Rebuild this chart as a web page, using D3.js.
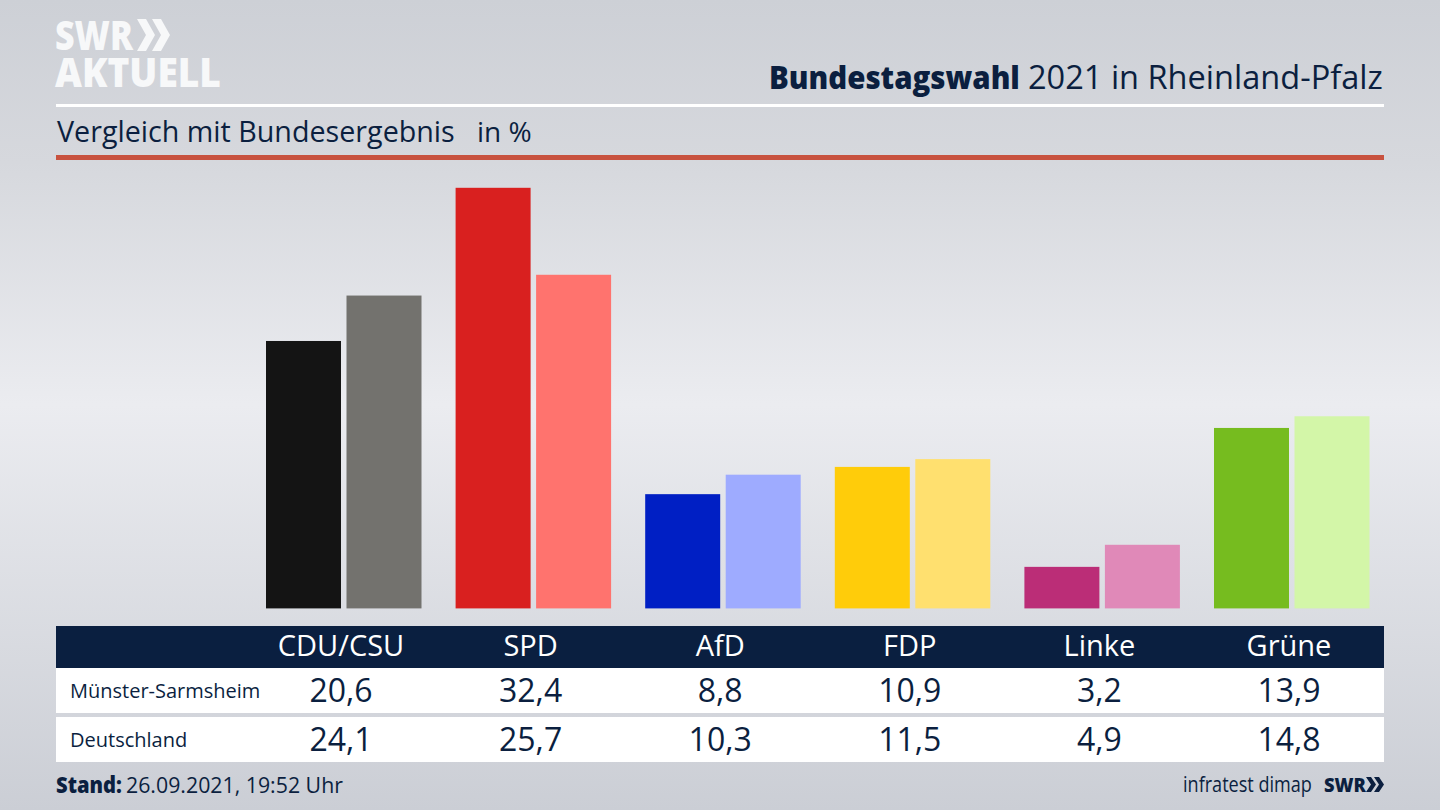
<!DOCTYPE html>
<html>
<head>
<meta charset="utf-8">
<script src="https://cdn.jsdelivr.net/npm/d3@7/dist/d3.min.js"></script>
<style>
  html, body { margin: 0; padding: 0; background: #d5d7dc; }
  svg { display: block; }
  text { font-family: "Open Sans", "Noto Sans", sans-serif; fill: #0b1f3f; }
</style>
</head>
<body>
<svg id="chart" width="1440" height="810"></svg>
<script>
const parties = ["CDU/CSU", "SPD", "AfD", "FDP", "Linke", "Grüne"];
const regionLabel = "Münster-Sarmsheim";
const nationLabel = "Deutschland";
const regionValues = [20.6, 32.4, 8.8, 10.9, 3.2, 13.9];
const nationValues = [24.1, 25.7, 10.3, 11.5, 4.9, 14.8];
const regionColors = ["#141414", "#d9201f", "#001fc4", "#ffcc0a", "#bb2d77", "#76bc1f"];
const nationColors = ["#73726e", "#ff736e", "#9eabff", "#ffe06f", "#e089b8", "#d3f6a8"];

const navy = "#0b1f3f";
const fmt = v => String(v.toFixed(1)).replace(".", ",");

const svg = d3.select("#chart");
const defs = svg.append("defs");

// background, lighter band in the middle
const bg = defs.append("linearGradient").attr("id", "bg")
    .attr("x1", 0).attr("y1", 0).attr("x2", 0).attr("y2", 1);
bg.append("stop").attr("offset", "0%").attr("stop-color", "#cdd0d6");
bg.append("stop").attr("offset", "20%").attr("stop-color", "#d6d8dd");
bg.append("stop").attr("offset", "50%").attr("stop-color", "#ebecf0");
bg.append("stop").attr("offset", "100%").attr("stop-color", "#cbced5");
svg.append("rect").attr("width", 1440).attr("height", 810).attr("fill", "url(#bg)");

// scales
const x = d3.scaleBand().domain(parties).range([266, 1403.6]);
const y = d3.scaleLinear().domain([0, 32.4]).range([608.4, 187.8]);
const barW = 75;
const barGap = 5.5;

// fitted text: the broadcast font is not installed, so squeeze to the reference width
const fitted = (g, str, px, base, size, width, weight) => {
  const t = g.append("text")
      .style("font-size", size + "px").style("font-weight", weight || 400)
      .text(str);
  const k = width / t.node().getComputedTextLength();
  return t.attr("transform", `translate(${px},${base}) scale(${k},1)`);
};

const chevron = (g, cx, top, w, h, color) => {
  g.append("path")
      .attr("d", `M${cx},${top}L${cx + w * 0.5},${top}L${cx + w},${top + h / 2}L${cx + w * 0.5},${top + h}L${cx},${top + h}L${cx + w * 0.5},${top + h / 2}Z`)
      .attr("fill", color);
};

// header
const logo = svg.append("g");
fitted(logo, "SWR", 55, 50, 40, 78, 800).style("fill", "#f7f8f9");
fitted(logo, "AKTUELL", 55, 87, 40, 166, 800).style("fill", "#f7f8f9");
chevron(logo, 137, 19, 18, 32, "#f7f8f9");
chevron(logo, 152, 19, 18, 32, "#f7f8f9");

fitted(svg, "Bundestagswahl", 769, 89, 32, 251, 800);
fitted(svg, "2021 in Rheinland-Pfalz", 1028, 89, 32, 355);

svg.append("rect").attr("x", 56).attr("y", 104).attr("width", 1328).attr("height", 3).attr("fill", "#fff");

fitted(svg, "Vergleich mit Bundesergebnis", 57, 142, 28.5, 398);
svg.append("text").attr("x", 477).attr("y", 142).style("font-size", "28px").text("in %");

svg.append("rect").attr("x", 56).attr("y", 155).attr("width", 1328).attr("height", 5).attr("fill", "#c8523f");

// bars
svg.append("g").selectAll("rect").data(parties).join("rect")
    .attr("x", d => x(d))
    .attr("y", (d, i) => y(regionValues[i]))
    .attr("width", barW)
    .attr("height", (d, i) => y(0) - y(regionValues[i]))
    .attr("fill", (d, i) => regionColors[i]);

svg.append("g").selectAll("rect").data(parties).join("rect")
    .attr("x", d => x(d) + barW + barGap)
    .attr("y", (d, i) => y(nationValues[i]))
    .attr("width", barW)
    .attr("height", (d, i) => y(0) - y(nationValues[i]))
    .attr("fill", (d, i) => nationColors[i]);

// table
const colX = d => x(d) + barW;
svg.append("rect").attr("x", 56).attr("y", 626).attr("width", 1328).attr("height", 42).attr("fill", "#0a1f40");
svg.append("rect").attr("x", 56).attr("y", 668).attr("width", 1328).attr("height", 45).attr("fill", "#fff");
svg.append("rect").attr("x", 56).attr("y", 717).attr("width", 1328).attr("height", 45).attr("fill", "#fff");

svg.append("g").selectAll("text").data(parties).join("text")
    .attr("x", colX).attr("y", 656).attr("text-anchor", "middle")
    .style("font-size", "29px").style("fill", "#fff")
    .text(d => d);

const row = (label, values, base) => {
  svg.append("text").attr("x", 70).attr("y", base - 3).style("font-size", "20px").text(label);
  svg.append("g").selectAll("text").data(parties).join("text")
      .attr("x", colX).attr("y", base + 1).attr("text-anchor", "middle")
      .style("font-size", "32px")
      .text((d, i) => fmt(values[i]));
};
row(regionLabel, regionValues, 701);
row(nationLabel, nationValues, 750);

// footer
fitted(svg, "Stand:", 56, 793, 22, 66, 800);
fitted(svg, "26.09.2021, 19:52 Uhr", 126, 793, 22, 217);

fitted(svg, "infratest dimap", 1183, 792, 21, 129);
const swr = svg.append("g");
fitted(swr, "SWR", 1324, 792, 20, 42, 800);
chevron(swr, 1366, 777, 10, 15, navy);
chevron(swr, 1374, 777, 10, 15, navy);
</script>
</body>
</html>
